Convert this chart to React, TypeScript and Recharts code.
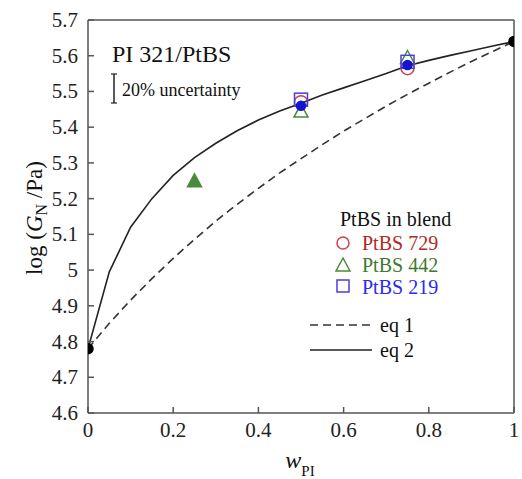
import React from "react";
import { ComposedChart, Scatter, XAxis, YAxis, ReferenceLine } from "recharts";

const W = 522;
const H = 479;
const FONT = "'Liberation Serif', 'Times New Roman', serif";

const xTicks = [0, 0.2, 0.4, 0.6, 0.8, 1];
const yTicks = [4.6, 4.7, 4.8, 4.9, 5.0, 5.1, 5.2, 5.3, 5.4, 5.5, 5.6, 5.7];

const eq1 = [
  { x: 0, y: 4.78 }, { x: 0.05, y: 4.851 }, { x: 0.1, y: 4.916 }, { x: 0.15, y: 4.976 },
  { x: 0.2, y: 5.033 }, { x: 0.25, y: 5.086 }, { x: 0.3, y: 5.137 }, { x: 0.35, y: 5.184 },
  { x: 0.4, y: 5.229 }, { x: 0.45, y: 5.272 }, { x: 0.5, y: 5.312 }, { x: 0.55, y: 5.351 },
  { x: 0.6, y: 5.389 }, { x: 0.65, y: 5.424 }, { x: 0.7, y: 5.459 }, { x: 0.75, y: 5.492 },
  { x: 0.8, y: 5.523 }, { x: 0.85, y: 5.554 }, { x: 0.9, y: 5.584 }, { x: 0.95, y: 5.612 },
  { x: 1, y: 5.64 },
];

const eq2 = [
  { x: 0, y: 4.78 }, { x: 0.05, y: 4.995 }, { x: 0.1, y: 5.12 }, { x: 0.15, y: 5.2 },
  { x: 0.2, y: 5.265 }, { x: 0.25, y: 5.315 }, { x: 0.3, y: 5.355 }, { x: 0.35, y: 5.39 },
  { x: 0.4, y: 5.42 }, { x: 0.45, y: 5.445 }, { x: 0.5, y: 5.467 }, { x: 0.55, y: 5.49 },
  { x: 0.6, y: 5.51 }, { x: 0.65, y: 5.53 }, { x: 0.7, y: 5.55 }, { x: 0.75, y: 5.572 },
  { x: 0.8, y: 5.587 }, { x: 0.85, y: 5.601 }, { x: 0.9, y: 5.614 }, { x: 0.95, y: 5.627 },
  { x: 1, y: 5.64 },
];

const ptbs729 = [{ x: 0.5, y: 5.47 }, { x: 0.75, y: 5.565 }];
const ptbs442 = [{ x: 0.25, y: 5.25 }, { x: 0.5, y: 5.445 }, { x: 0.75, y: 5.595 }];
const ptbs219 = [{ x: 0.5, y: 5.477 }, { x: 0.75, y: 5.583 }];
const average = [{ x: 0.5, y: 5.46 }, { x: 0.75, y: 5.574 }];
const pureEnds = [{ x: 0, y: 4.78 }, { x: 1, y: 5.64 }];

const RED = "#d0404a";
const RED_TEXT = "#b02a1e";
const GREEN = "#4a8a3a";
const GREEN_TEXT = "#3e7a2e";
const BLUE = "#4a3ee0";
const BLUE_TEXT = "#2a2af0";
const AXIS = "#555";

const XTick = (props: any) => {
  const { x, y, payload } = props;
  return (
    <g>
      <line x1={x} y1={y} x2={x} y2={y - 6} stroke={AXIS} strokeWidth={1.5} />
      <text x={x} y={y + 24} textAnchor="middle" fontFamily={FONT} fontSize={21} fill="#222">
        {String(payload.value)}
      </text>
    </g>
  );
};

const YTick = (props: any) => {
  const { x, y, payload } = props;
  const v = Math.round(payload.value * 10) / 10;
  return (
    <g>
      <line x1={x} y1={y} x2={x + 6} y2={y} stroke={AXIS} strokeWidth={1.5} />
      <text x={x - 10} y={y + 7} textAnchor="end" fontFamily={FONT} fontSize={21} fill="#222">
        {String(v)}
      </text>
    </g>
  );
};

const none = () => <g />;

const circleShape = (color: string, r: number, filled: boolean) => (p: any) => (
  <circle cx={p.cx} cy={p.cy} r={r} fill={filled ? color : "none"} stroke={color} strokeWidth={1.5} />
);

const triShape = (filled: boolean) => (p: any) => {
  const s = 7;
  const d = `M${p.cx},${p.cy - s} L${p.cx + s},${p.cy + s * 0.85} L${p.cx - s},${p.cy + s * 0.85} Z`;
  return <path d={d} fill={filled ? GREEN : "none"} stroke={GREEN} strokeWidth={1.5} />;
};

const squareShape = (p: any) => (
  <rect x={p.cx - 6.5} y={p.cy - 6.5} width={13} height={13} fill="none" stroke={BLUE} strokeWidth={1.5} />
);

export default function App() {
  return (
    <div style={{ position: "fixed", left: 0, top: 0, width: W, height: H, background: "#fff" }}>
      <ComposedChart width={W} height={H} margin={{ top: 20, right: 8, bottom: 0, left: 0 }}>
        <XAxis
          type="number"
          dataKey="x"
          domain={[0, 1]}
          ticks={xTicks}
          height={66}
          tickSize={0}
          tickMargin={0}
          tick={XTick}
          stroke={AXIS}
          strokeWidth={1.5}
          allowDataOverflow
        />
        <YAxis
          type="number"
          dataKey="y"
          domain={[4.6, 5.7]}
          ticks={yTicks}
          width={88}
          tickSize={0}
          tickMargin={0}
          tick={YTick}
          stroke={AXIS}
          strokeWidth={1.5}
          allowDataOverflow
          interval={0}
        />
        <ReferenceLine y={5.7} stroke={AXIS} strokeWidth={1.5} />
        <ReferenceLine x={1} stroke={AXIS} strokeWidth={1.5} />
        <Scatter data={eq1} line={{ stroke: "#333", strokeWidth: 1.6, strokeDasharray: "8 5" }} shape={none} isAnimationActive={false} />
        <Scatter data={eq2} line={{ stroke: "#222", strokeWidth: 1.6 }} shape={none} isAnimationActive={false} />
        <Scatter data={ptbs442.slice(0, 1)} shape={triShape(true)} isAnimationActive={false} />
        <Scatter data={ptbs442.slice(1)} shape={triShape(false)} isAnimationActive={false} />
        <Scatter data={ptbs729} shape={circleShape(RED, 6.5, false)} isAnimationActive={false} />
        <Scatter data={ptbs219} shape={squareShape} isAnimationActive={false} />
        <Scatter data={average} shape={circleShape("#1414d0", 4.5, true)} isAnimationActive={false} />
        <Scatter data={pureEnds} shape={circleShape("#000", 5, true)} isAnimationActive={false} />
      </ComposedChart>
      <svg width={W} height={H} style={{ position: "absolute", left: 0, top: 0, pointerEvents: "none" }}>
        <text x={112} y={62} fontFamily={FONT} fontSize={24} fill="#111">PI 321/PtBS</text>
        <line x1={114} y1={74} x2={114} y2={103} stroke="#222" strokeWidth={1.5} />
        <line x1={111} y1={74} x2={117} y2={74} stroke="#222" strokeWidth={1.2} />
        <line x1={111} y1={103} x2={117} y2={103} stroke="#222" strokeWidth={1.2} />
        <text x={122} y={96} fontFamily={FONT} fontSize={18} fill="#111">20% uncertainty</text>

        <text x={340} y={226} fontFamily={FONT} fontSize={20} fill="#111">PtBS in blend</text>
        <circle cx={343} cy={243} r={6} fill="none" stroke={RED} strokeWidth={1.5} />
        <text x={362} y={250} fontFamily={FONT} fontSize={20} fill={RED_TEXT}>PtBS 729</text>
        <path d="M343,258 L350,271 L336,271 Z" fill="none" stroke={GREEN} strokeWidth={1.5} />
        <text x={362} y={272} fontFamily={FONT} fontSize={20} fill={GREEN_TEXT}>PtBS 442</text>
        <rect x={337} y={280} width={12} height={12} fill="none" stroke={BLUE} strokeWidth={1.5} />
        <text x={362} y={294} fontFamily={FONT} fontSize={20} fill={BLUE_TEXT}>PtBS 219</text>

        <line x1={310} y1={325} x2={372} y2={325} stroke="#333" strokeWidth={1.6} strokeDasharray="8 5" />
        <text x={380} y={332} fontFamily={FONT} fontSize={20} fill="#111">eq 1</text>
        <line x1={310} y1={350} x2={372} y2={350} stroke="#222" strokeWidth={1.6} />
        <text x={380} y={357} fontFamily={FONT} fontSize={20} fill="#111">eq 2</text>

        <text transform="translate(42,218) rotate(-90)" textAnchor="middle" fontFamily={FONT} fontSize={23} fill="#111">
          log (<tspan fontStyle="italic">G</tspan><tspan fontSize={16} dy={5}>N</tspan><tspan dy={-5}> /Pa)</tspan>
        </text>
        <text x={300} y={468} textAnchor="middle" fontFamily={FONT} fontSize={24} fill="#111">
          <tspan fontStyle="italic">w</tspan><tspan fontSize={15} dy={8}>PI</tspan>
        </text>
      </svg>
    </div>
  );
}
